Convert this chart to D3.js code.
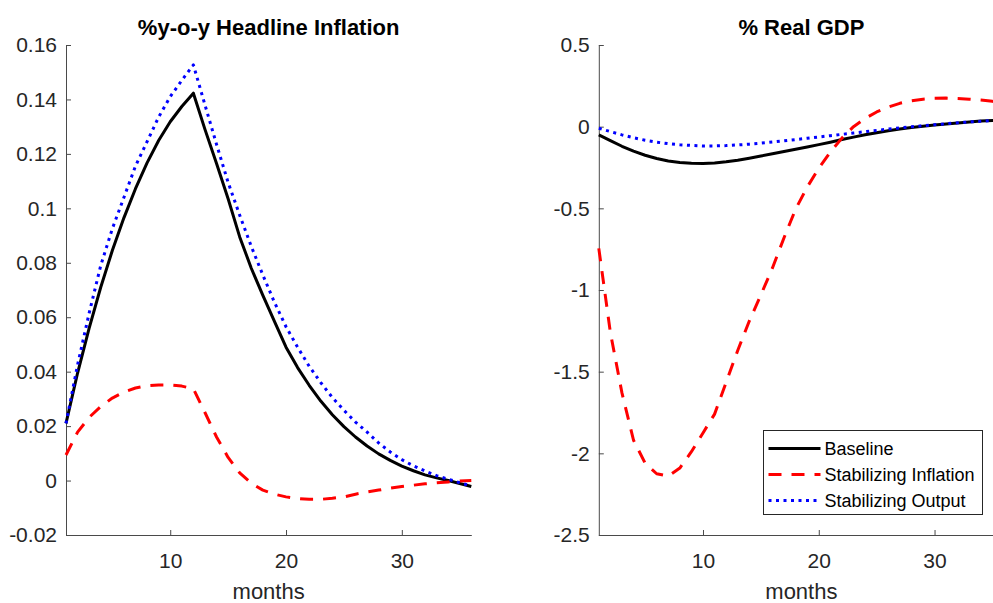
<!DOCTYPE html>
<html>
<head>
<meta charset="utf-8">
<script src="https://cdn.jsdelivr.net/npm/d3@7"></script>
<style>
  body { margin: 0; background: #fff; overflow: hidden; }
  svg { font-family: "Liberation Sans", Arial, Helvetica, sans-serif; }
  .axis path, .axis line { stroke: #4a4a4a; stroke-width: 1; }
  .axis text { fill: #262626; font-size: 21px; }
</style>
</head>
<body>
<script>
// months on the x axis
var months = [1,2,3,4,5,6,7,8,9,10,11,12,13,14,15,16,17,18,19,20,21,22,23,24,25,26,27,28,29,30,31,32,33,34,35,36];

// %y-o-y headline inflation
var inflBaseline = [0.021,0.0395,0.056,0.071,0.0845,0.0965,0.1072,0.1167,0.1249,0.1318,0.1374,0.1423,
    0.129,0.1165,0.1035,0.0895,0.078,0.068,0.0585,0.049,0.0415,0.035,0.0292,0.0242,
    0.0198,0.016,0.0127,0.0098,0.0074,0.0053,0.0036,0.0021,0.001,0.0,-0.0011,-0.0022];
var inflStabInflation = [0.0094,0.0178,0.0232,0.0272,0.0303,0.0325,0.034,0.0348,0.0351,0.0351,0.0347,0.0337,
    0.025,0.016,0.0085,0.0028,-0.001,-0.0035,-0.005,-0.006,-0.0066,-0.0069,-0.0069,-0.0065,
    -0.006,-0.005,-0.0042,-0.0035,-0.0028,-0.0022,-0.0017,-0.0012,-0.0008,-0.0005,-0.0002,0.0];
var inflStabOutput = [0.021,0.0425,0.0615,0.079,0.0925,0.104,0.1155,0.1245,0.1335,0.141,0.147,0.1527,
    0.138,0.1235,0.1095,0.0975,0.086,0.0755,0.0655,0.0565,0.049,0.042,0.036,0.0305,
    0.0258,0.0215,0.0178,0.0138,0.0105,0.0077,0.0054,0.0035,0.0018,0.0005,-0.0008,-0.002];

// % real GDP
var gdpBaseline = [-0.05,-0.085,-0.12,-0.15,-0.175,-0.195,-0.21,-0.219,-0.224,-0.225,-0.222,-0.215,
    -0.205,-0.193,-0.18,-0.166,-0.152,-0.138,-0.124,-0.11,-0.095,-0.079,-0.064,-0.05,
    -0.037,-0.025,-0.014,-0.005,0.003,0.010,0.017,0.023,0.029,0.034,0.038,0.042];
var gdpStabInflation = [-0.745,-1.26,-1.63,-1.92,-2.06,-2.125,-2.14,-2.09,-1.99,-1.875,-1.76,-1.565,
    -1.37,-1.19,-1.03,-0.865,-0.68,-0.505,-0.37,-0.255,-0.155,-0.07,0.0,0.05,
    0.09,0.12,0.143,0.158,0.168,0.174,0.175,0.172,0.168,0.163,0.155,0.148];
var gdpStabOutput = [-0.01,-0.03,-0.05,-0.068,-0.083,-0.095,-0.104,-0.111,-0.115,-0.118,-0.118,-0.116,
    -0.112,-0.107,-0.101,-0.094,-0.087,-0.079,-0.071,-0.063,-0.055,-0.047,-0.039,-0.031,
    -0.023,-0.015,-0.008,-0.001,0.006,0.012,0.018,0.024,0.029,0.033,0.037,0.041];

var xTicks = [10, 20, 30];
var inflTicks = [-0.02,0,0.02,0.04,0.06,0.08,0.1,0.12,0.14,0.16];
var gdpTicks = [-2.5,-2,-1.5,-1,-0.5,0,0.5];

var seriesNames = ["Baseline", "Stabilizing Inflation", "Stabilizing Output"];
var seriesStyle = [
    {color: "#000000", dash: null, width: 3},
    {color: "#ff0000", dash: "13,10", width: 3},
    {color: "#0000ff", dash: "3,4.5", width: 3}
];

var width = 993, height = 603;
var plotTop = 45, plotBottom = 535;

var svg = d3.select("body").append("svg")
    .attr("width", width)
    .attr("height", height);

function fmt(d) { return String(+d.toFixed(2)); }

function panel(left, right, title, yDomain, yTicks, series) {
    var x = d3.scaleLinear().domain([1, 36]).range([left, right]);
    var y = d3.scaleLinear().domain(yDomain).range([plotBottom, plotTop]);

    svg.append("g")
        .attr("class", "axis")
        .attr("transform", "translate(0," + plotBottom + ")")
        .call(d3.axisBottom(x).tickValues(xTicks).tickSizeInner(-5).tickSizeOuter(0).tickPadding(18).tickFormat(fmt));

    svg.append("g")
        .attr("class", "axis")
        .attr("transform", "translate(" + left + ",0)")
        .call(d3.axisLeft(y).tickValues(yTicks).tickSizeInner(-5).tickSizeOuter(0).tickPadding(9).tickFormat(fmt));

    var line = d3.line()
        .x(function(d, i) { return x(months[i]); })
        .y(function(d) { return y(d); });

    series.forEach(function(s, i) {
        svg.append("path")
            .datum(s)
            .attr("fill", "none")
            .attr("stroke", seriesStyle[i].color)
            .attr("stroke-width", seriesStyle[i].width)
            .attr("stroke-dasharray", seriesStyle[i].dash)
            .attr("stroke-linejoin", "round")
            .attr("d", line);
    });

    svg.append("text")
        .attr("x", (left + right) / 2)
        .attr("y", 35)
        .attr("text-anchor", "middle")
        .style("font-size", "22px")
        .style("font-weight", "bold")
        .text(title);

    svg.append("text")
        .attr("x", (left + right) / 2)
        .attr("y", 599)
        .attr("text-anchor", "middle")
        .style("font-size", "22px")
        .style("fill", "#262626")
        .text("months");
}

panel(66, 471.3, "%y-o-y Headline Inflation", [-0.02, 0.16], inflTicks,
    [inflBaseline, inflStabInflation, inflStabOutput]);
panel(598.8, 1004, "% Real GDP", [-2.5, 0.5], gdpTicks,
    [gdpBaseline, gdpStabInflation, gdpStabOutput]);

// legend in the GDP panel
var legend = svg.append("g").attr("transform", "translate(763.5,430.5)");
legend.append("rect")
    .attr("width", 219)
    .attr("height", 84)
    .attr("fill", "#fff")
    .attr("stroke", "#262626")
    .attr("stroke-width", 1);

var rows = legend.selectAll("g.row")
    .data(seriesNames)
    .enter().append("g")
    .attr("class", "row")
    .attr("transform", function(d, i) { return "translate(0," + (18 + i * 26) + ")"; });

rows.append("line")
    .attr("x1", 5)
    .attr("x2", 57)
    .attr("stroke", function(d, i) { return seriesStyle[i].color; })
    .attr("stroke-width", function(d, i) { return seriesStyle[i].width; })
    .attr("stroke-dasharray", function(d, i) { return seriesStyle[i].dash; });

rows.append("text")
    .attr("x", 61)
    .attr("dy", "0.35em")
    .style("font-size", "18px")
    .text(function(d) { return d; });
</script>
</body>
</html>
